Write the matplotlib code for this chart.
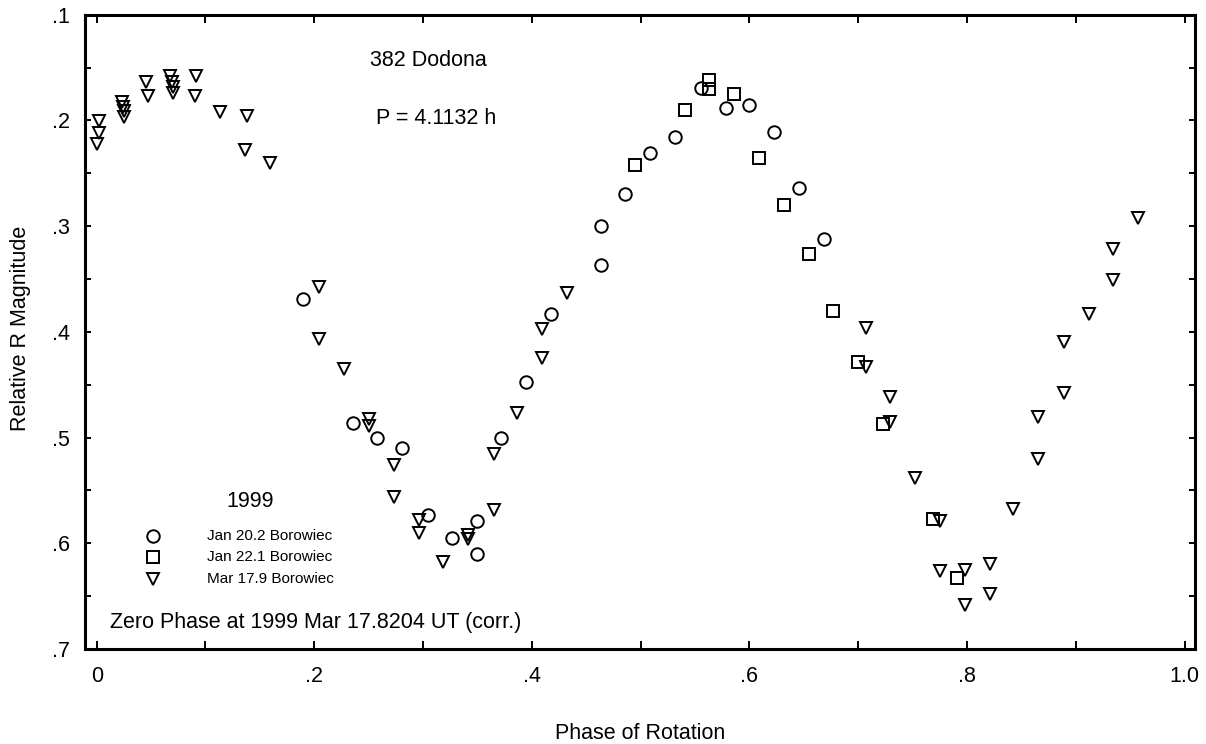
import matplotlib
matplotlib.use("Agg")
import matplotlib.pyplot as plt
from matplotlib.ticker import FixedLocator, FixedFormatter

plt.rcParams["font.family"] = ["Liberation Sans", "DejaVu Sans"]

# Jan 20.2 Borowiec (circles)
jan20_phase = [0.1893, 0.2359, 0.2573, 0.2809, 0.3042, 0.3266, 0.3498, 0.3498,
               0.3716, 0.3943, 0.4175, 0.4635, 0.4635, 0.4858, 0.5086, 0.5315,
               0.5551, 0.5781, 0.5995, 0.6228, 0.6456, 0.6687]
jan20_mag = [0.3693, 0.4866, 0.5008, 0.5100, 0.5736, 0.5948, 0.5787, 0.6102,
             0.5008, 0.4478, 0.3835, 0.3368, 0.2996, 0.2696, 0.2306, 0.2154,
             0.1697, 0.1886, 0.1854, 0.2113, 0.2643, 0.3125]

# Jan 22.1 Borowiec (squares)
jan22_phase = [0.4948, 0.5407, 0.5628, 0.5628, 0.5857, 0.6087, 0.6317, 0.6547,
               0.6770, 0.7000, 0.7230, 0.7690, 0.7910]
jan22_mag = [0.2425, 0.1902, 0.1618, 0.1706, 0.1750, 0.2353, 0.2800, 0.3264,
             0.3803, 0.4289, 0.4872, 0.5774, 0.6332]

# Mar 17.9 Borowiec (triangles)
mar17_phase = [0.0024, 0.0024, 0.0000, 0.0230, 0.0240, 0.0250, 0.0250, 0.0453,
               0.0475, 0.0674, 0.0690, 0.0704, 0.0704, 0.0913, 0.0904, 0.1133,
               0.1379, 0.1366, 0.1593, 0.2046, 0.2046, 0.2276, 0.2506, 0.2506,
               0.2735, 0.2735, 0.2960, 0.2960, 0.3180, 0.3416, 0.3416, 0.3652,
               0.3652, 0.3860, 0.4096, 0.4096, 0.4325, 0.7071, 0.7071, 0.7291,
               0.7291, 0.7521, 0.7750, 0.7750, 0.7980, 0.7980, 0.8210, 0.8210,
               0.8425, 0.8655, 0.8655, 0.8890, 0.8890, 0.9120, 0.9338, 0.9338,
               0.9573]
mar17_mag = [0.2003, 0.2120, 0.2224, 0.1830, 0.1870, 0.1910, 0.1965, 0.1634,
             0.1770, 0.1580, 0.1634, 0.1680, 0.1738, 0.1580, 0.1770, 0.1918,
             0.1958, 0.2280, 0.2406, 0.3580, 0.4070, 0.4355, 0.4822, 0.4889,
             0.5257, 0.5560, 0.5780, 0.5900, 0.6180, 0.5922, 0.5963, 0.5686,
             0.5156, 0.4771, 0.4245, 0.3977, 0.3636, 0.3961, 0.4336, 0.4614,
             0.4851, 0.5386, 0.5787, 0.6263, 0.6254, 0.6585, 0.6200, 0.6483,
             0.5680, 0.5206, 0.4803, 0.4582, 0.4100, 0.3835, 0.3510, 0.3220,
             0.2926]

series_labels = ["Jan 20.2 Borowiec", "Jan 22.1 Borowiec", "Mar 17.9 Borowiec"]
series_markers = ["o", "s", "v"]

x_major = [0.0, 0.2, 0.4, 0.6, 0.8, 1.0]
x_labels = ["0", ".2", ".4", ".6", ".8", "1.0"]
y_major = [0.1, 0.2, 0.3, 0.4, 0.5, 0.6, 0.7]
y_labels = [".1", ".2", ".3", ".4", ".5", ".6", ".7"]


def main():
    fig = plt.figure(figsize=(12.06, 7.44), dpi=100)
    ax = fig.add_axes([0.0707, 0.1277, 0.9202, 0.8525])

    mk = dict(linestyle="none", markersize=9, markerfacecolor="none",
              markeredgecolor="black", markeredgewidth=1.4)
    data = [(jan20_phase, jan20_mag), (jan22_phase, jan22_mag),
            (mar17_phase, mar17_mag)]
    for (xs, ys), m in zip(data, series_markers):
        ax.plot(xs, ys, marker=m, **mk)

    ax.set_xlim(-0.0105, 1.0095)
    ax.set_ylim(0.7, 0.1)

    ax.xaxis.set_major_locator(FixedLocator(x_major))
    ax.xaxis.set_major_formatter(FixedFormatter(x_labels))
    ax.xaxis.set_minor_locator(FixedLocator([0.1, 0.3, 0.5, 0.7, 0.9]))
    ax.yaxis.set_major_locator(FixedLocator(y_major))
    ax.yaxis.set_major_formatter(FixedFormatter(y_labels))
    ax.yaxis.set_minor_locator(
        FixedLocator([0.15, 0.25, 0.35, 0.45, 0.55, 0.65]))

    for s in ax.spines.values():
        s.set_linewidth(2.2)
    ax.tick_params(axis="both", which="both", direction="in", width=1.4,
                   top=True, right=True, labelsize=15.5)
    ax.tick_params(axis="x", which="both", length=6, pad=12)
    ax.tick_params(axis="y", which="both", length=4, pad=11)

    ax.set_xlabel("Phase of Rotation", fontsize=15.5)
    ax.set_ylabel("Relative R Magnitude", fontsize=15.5)
    ax.xaxis.set_label_coords(0.5, -0.116)
    ax.yaxis.set_label_coords(-0.049, 0.506)

    ax.text(0.3088, 0.9286, "382 Dodona", transform=ax.transAxes,
            ha="center", va="center", fontsize=15.5)
    ax.text(0.316, 0.837, "P = 4.1132 h", transform=ax.transAxes,
            ha="center", va="center", fontsize=15.5)
    ax.text(0.1489, 0.2333, "1999", transform=ax.transAxes,
            ha="center", va="center", fontsize=15.5)
    ax.text(0.0223, 0.041, "Zero Phase at 1999 Mar 17.8204 UT (corr.)",
            transform=ax.transAxes, ha="left", va="center", fontsize=15.5)

    # hand-placed legend like the original
    rows = [0.1786, 0.1455, 0.1099]
    for yy, m, lab in zip(rows, series_markers, series_labels):
        ax.plot([0.061], [yy], marker=m, transform=ax.transAxes,
                clip_on=False, **mk)
        ax.text(0.1096, yy, lab, transform=ax.transAxes, ha="left",
                va="center", fontsize=11)

    fig.savefig("out.png", dpi=100)


if __name__ == "__main__":
    main()
